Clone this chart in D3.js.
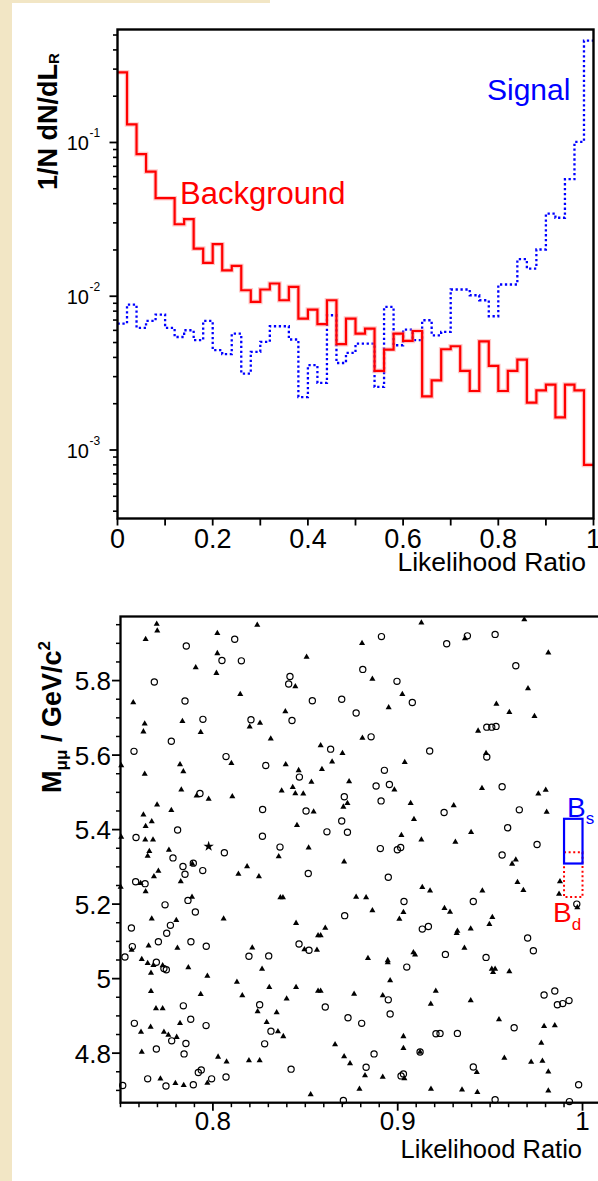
<!DOCTYPE html>
<html>
<head>
<meta charset="utf-8">
<script src="https://cdn.jsdelivr.net/npm/d3@7"></script>
<style>
  html, body { margin: 0; padding: 0; background: #f2e6c5; }
  svg { display: block; }
  text { font-family: "Liberation Sans", Arial, Helvetica, sans-serif; }
</style>
</head>
<body>
<svg id="chart" width="598" height="1181"></svg>
<script>
// ---------- Likelihood-ratio distributions (normalised, 50 bins of 0.02) ----------
const binLow = d3.range(0, 1, 0.02);
const background = [0.286, 0.131, 0.084, 0.0646, 0.0434, 0.0434, 0.0294, 0.0317, 0.0204, 0.0165,
  0.0218, 0.01475, 0.01574, 0.01094, 0.00919, 0.01106, 0.0121, 0.00942, 0.0115, 0.00716,
  0.00819, 0.00658, 0.00942, 0.00488, 0.00716, 0.00571, 0.00616, 0.00327, 0.0045, 0.00571,
  0.00512, 0.00594, 0.00223, 0.00284, 0.00452, 0.00473, 0.00327, 0.00242, 0.00509, 0.00352,
  0.00242, 0.00327, 0.00387, 0.00203, 0.00244, 0.00266, 0.00163, 0.00266, 0.00244, 0.0008];
const signal = [0.00664, 0.00883, 0.00622, 0.00691, 0.0076, 0.00622, 0.00543, 0.00601, 0.00518, 0.00691,
  0.00446, 0.0042, 0.00571, 0.00314, 0.00435, 0.00505, 0.00638, 0.00638, 0.00523, 0.00221,
  0.00356, 0.00273, 0.00752, 0.00368, 0.00428, 0.00492, 0.00492, 0.00257, 0.00852, 0.0048,
  0.00607, 0.00518, 0.00698, 0.00557, 0.00586, 0.01106, 0.01106, 0.01015, 0.00942, 0.00741,
  0.01192, 0.01192, 0.01741, 0.01514, 0.02014, 0.0345, 0.0324, 0.0577, 0.101, 0.459];
const lrTicks = [0, 0.1, 0.2, 0.3, 0.4, 0.5, 0.6, 0.7, 0.8, 0.9, 1];
const lrLabels = [0, 0.2, 0.4, 0.6, 0.8, 1];
const logMajor = [1e-3, 1e-2, 1e-1];
const logMajorExp = ["-3", "-2", "-1"];

// ---------- Candidate events in the (likelihood ratio, dimuon mass) plane ----------
// filled triangles: [LR, M(GeV/c^2)]
const triangleEvents = [
  [0.7696,5.952],[0.7699,5.934],[0.7636,5.911],[0.8240,5.949],[0.8024,5.927],[0.8024,5.873],[0.7907,5.835],[0.8019,5.820],
  [0.8148,5.763],[0.7569,5.741],[0.8392,5.717],[0.8446,5.784],[0.8507,5.863],[0.7631,5.684],[0.7624,5.663],[0.7835,5.691],
  [0.7934,5.661],[0.8199,5.676],[0.8255,5.686],[0.8313,5.644],[0.8583,5.626],[0.8645,5.582],[0.7504,5.572],[0.8100,5.578],
  [0.7822,5.575],[0.8394,5.575],[0.8590,5.562],[0.7840,5.556],[0.8464,5.559],[0.7631,5.549],[0.8533,5.528],[0.8432,5.514],
  [0.7829,5.507],[0.8372,5.504],[0.8446,5.497],[0.8489,5.496],[0.7912,5.491],[0.8105,5.489],[0.7977,5.482],[0.7698,5.467],
  [0.7775,5.452],[0.8545,5.448],[0.7624,5.440],[0.7669,5.422],[0.8455,5.412],[0.7636,5.409],[0.7504,5.380],[0.7634,5.373],
  [0.7676,5.373],[0.8518,5.351],[0.7762,5.345],[0.7656,5.342],[0.7647,5.329],[0.8356,5.328],
  [0.9128,5.955],[0.9685,5.964],[0.8807,5.900],[0.9364,5.913],[0.9815,5.875],[0.8863,5.804],[0.9705,5.779],[0.9025,5.763],
  [0.9534,5.737],[0.8951,5.728],[0.9604,5.715],[0.9740,5.704],[0.9435,5.665],[0.8809,5.646],[0.8701,5.605],[0.9478,5.605],
  [0.9038,5.581],[0.8737,5.529],[0.8982,5.507],[0.9456,5.511],[0.9801,5.506],[0.9761,5.496],[0.8728,5.471],[0.8706,5.461],
  [0.9070,5.471],[0.9303,5.465],[0.9806,5.447],[0.9088,5.428],[0.9397,5.393],[0.9020,5.385],[0.9128,5.373],[0.9312,5.367],
  [0.7889,5.308],[0.8185,5.301],[0.7705,5.289],[0.7681,5.274],[0.8138,5.281],[0.8249,5.274],[0.7609,5.256],[0.7826,5.261],
  [0.7636,5.234],[0.7501,5.246],[0.8365,5.218],[0.8379,5.218],[0.7887,5.219],[0.7669,5.161],[0.7802,5.157],[0.8058,5.161],
  [0.8450,5.149],[0.8608,5.136],[0.8569,5.116],[0.8583,5.116],[0.7652,5.088],[0.7560,5.077],[0.7808,5.082],[0.8213,5.083],
  [0.8495,5.078],[0.8563,5.077],[0.7615,5.052],[0.7647,5.041],[0.7678,5.036],[0.7728,5.035],[0.7867,5.030],[0.8266,5.026],
  [0.7665,5.015],[0.7970,5.007],[0.8130,4.991],[0.8305,4.977],[0.8450,4.977],[0.7665,4.966],[0.7934,4.958],[0.8159,4.955],
  [0.8569,4.967],[0.8583,4.967],[0.8399,4.946],[0.7692,4.920],[0.7728,4.920],[0.8242,4.912],[0.8345,4.909],[0.7822,4.880],
  [0.8291,4.883],[0.7663,4.870],[0.7611,4.857],[0.7735,4.857],[0.7759,4.849],[0.7804,4.843],[0.8352,4.858],[0.8381,4.845],
  [0.8661,4.823],[0.7615,4.803],[0.8028,4.790],[0.8074,4.777],[0.8195,4.780],[0.8253,4.780],[0.7716,4.731],[0.7797,4.719],
  [0.7842,4.714],[0.7970,4.720],[0.8529,4.689],
  [0.8710,5.314],[0.9639,5.319],[0.9619,5.308],[0.9878,5.261],[0.9873,5.227],[0.9972,5.191],[0.9648,5.259],[0.9680,5.237],
  [0.9133,5.245],[0.9175,5.236],[0.9458,5.236],[0.8775,5.219],[0.8829,5.218],[0.8863,5.183],[0.9253,5.189],[0.9283,5.179],
  [0.9031,5.178],[0.9009,5.160],[0.9512,5.165],[0.9496,5.146],[0.9395,5.134],[0.9323,5.128],[0.9319,5.122],[0.9361,5.082],
  [0.9085,5.070],[0.9094,5.064],[0.8839,5.055],[0.8946,5.049],[0.8946,5.043],[0.9509,5.026],[0.9527,5.026],[0.9516,5.017],
  [0.9604,5.019],[0.8959,4.995],[0.9206,4.967],[0.8764,4.959],[0.8919,4.955],[0.9395,4.941],[0.9179,4.932],[0.9548,4.890],
  [0.9792,4.872],[0.9850,4.874],[0.9031,4.845],[0.9777,4.827],[0.9031,4.813],[0.9121,4.803],[0.8710,4.791],[0.8742,4.772],
  [0.9577,4.787],[0.9722,4.776],[0.9783,4.779],[0.9428,4.749],[0.9815,4.750],[0.8823,4.740],[0.8919,4.736],[0.9036,4.732],
  [0.8793,4.704],[0.9180,4.704],[0.9348,4.702],[0.9431,4.695],[0.9815,4.699]
];
// open circles: [LR, M(GeV/c^2)]
const circleEvents = [
  [0.7856,5.893],[0.8118,5.911],[0.8049,5.854],[0.8154,5.853],[0.7683,5.796],[0.8417,5.811],[0.8410,5.791],[0.7849,5.745],
  [0.8538,5.746],[0.7946,5.696],[0.8206,5.695],[0.8428,5.693],[0.7775,5.637],[0.7573,5.610],[0.8071,5.596],[0.8286,5.572],
  [0.8637,5.616],[0.8468,5.541],[0.7930,5.497],[0.8269,5.454],[0.8504,5.450],[0.8617,5.394],[0.7809,5.399],[0.7584,5.379],
  [0.8268,5.382],[0.8363,5.353],[0.8062,5.338],[0.7784,5.324],
  [0.8912,5.918],[0.9265,5.899],[0.9377,5.920],[0.9527,5.924],[0.9639,5.840],[0.8811,5.830],[0.8996,5.798],[0.8697,5.750],
  [0.9079,5.741],[0.8775,5.713],[0.9482,5.675],[0.9509,5.675],[0.9532,5.677],[0.8856,5.649],[0.9173,5.611],[0.9482,5.595],
  [0.8928,5.559],[0.8883,5.517],[0.8955,5.521],[0.9565,5.515],[0.8711,5.488],[0.8910,5.477],[0.9251,5.446],[0.9658,5.453],
  [0.8697,5.423],[0.9595,5.405],[0.8728,5.393],[0.9754,5.360],[0.8906,5.349],[0.8998,5.346],[0.9016,5.352],[0.9565,5.332],
  [0.7838,5.301],[0.7894,5.310],[0.7945,5.290],[0.7849,5.280],[0.8516,5.282],[0.7582,5.260],[0.7633,5.255],[0.7865,5.210],
  [0.7741,5.198],[0.7905,5.179],[0.7770,5.143],[0.7559,5.136],[0.7750,5.122],[0.7705,5.099],[0.7881,5.099],[0.7564,5.086],
  [0.7964,5.087],[0.8466,5.093],[0.8520,5.076],[0.7524,5.058],[0.8195,5.060],[0.8302,5.061],[0.7694,5.044],[0.7735,5.027],
  [0.7748,5.024],[0.7840,4.927],[0.8253,4.930],[0.8608,4.924],[0.7880,4.891],[0.7575,4.880],[0.7963,4.874],[0.8314,4.859],
  [0.7777,4.833],[0.7854,4.826],[0.8280,4.825],[0.7694,4.811],[0.7844,4.798],[0.8423,4.757],[0.7937,4.755],[0.7921,4.748],
  [0.7647,4.731],[0.7993,4.731],[0.8071,4.736],[0.7894,4.715],[0.7746,4.712],[0.7512,4.713],
  [0.8949,5.272],[0.9969,5.200],[0.9034,5.207],[0.9409,5.207],[0.8713,5.169],[0.9133,5.133],[0.9166,5.140],[0.9703,5.109],
  [0.9734,5.075],[0.9258,5.065],[0.9478,5.057],[0.9049,5.031],[0.9850,4.967],[0.9792,4.956],[0.8949,4.943],[0.9864,4.930],
  [0.9893,4.933],[0.9927,4.941],[0.8959,4.905],[0.8731,4.895],[0.8805,4.880],[0.9630,4.868],[0.9207,4.852],[0.9229,4.853],
  [0.9323,4.853],[0.8872,4.798],[0.9121,4.803],[0.8829,4.762],[0.9409,4.763],[0.9018,4.739],[0.9031,4.744],[0.9979,4.715],
  [0.8706,4.673],[0.9527,4.675],[0.9929,4.670]
];
const starEvents = [[0.7977, 5.355]];
const massMajor = [4.8, 5.0, 5.2, 5.4, 5.6, 5.8];
const massLabels = ["4.8", "5", "5.2", "5.4", "5.6", "5.8"];
const lrZoomMajor = [0.8, 0.9, 1.0];
const lrZoomLabels = ["0.8", "0.9", "1"];
// signal mass windows (LR > 0.99)
const bsWindow = { lr: [0.99, 1.0], mass: [5.309, 5.429] };
const bdWindow = { lr: [0.99, 1.0], mass: [5.219, 5.339] };

const RED = "#ff0000", BLUE = "#0000ff";
const svg = d3.select("#chart");

// ---------- page ----------
svg.append("rect").attr("x", 0).attr("y", 0).attr("width", 598).attr("height", 1181).attr("fill", "#f2e6c5");
svg.append("rect").attr("x", 12).attr("y", 3).attr("width", 586).attr("height", 1178).attr("fill", "#ffffff");
svg.append("rect").attr("x", 270).attr("y", 0).attr("width", 328).attr("height", 3).attr("fill", "#ffffff");

// ================= upper panel: 1/N dN/dL_R =================
const gTop = svg.append("g");
const xL = d3.scaleLinear().domain([0, 1]).range([117.5, 593.5]);
const yL = d3.scaleLog().domain([3.585e-4, 0.543]).range([518.5, 29.5]);

const stepLine = d3.line().x(d => xL(d[0])).y(d => yL(d[1])).curve(d3.curveStepAfter);
const histPoints = vals => binLow.map((b, i) => [b, vals[i]]).concat([[1, vals[vals.length - 1]]]);

// signal (dotted blue)
gTop.append("path").attr("d", stepLine(histPoints(signal)))
  .attr("fill", "none").attr("stroke", BLUE).attr("stroke-width", 2.3)
  .attr("stroke-dasharray", "2.3 2.6");
// background (solid red, soft edge)
gTop.append("path").attr("d", stepLine(histPoints(background)))
  .attr("fill", "none").attr("stroke", "#ff8a8a").attr("stroke-opacity", 0.45).attr("stroke-width", 4.6);
gTop.append("path").attr("d", stepLine(histPoints(background)))
  .attr("fill", "none").attr("stroke", RED).attr("stroke-width", 2.2);

// frame
gTop.append("rect").attr("x", xL(0)).attr("y", yL.range()[1])
  .attr("width", xL(1) - xL(0)).attr("height", yL.range()[0] - yL.range()[1])
  .attr("fill", "none").attr("stroke", "#000").attr("stroke-width", 2.4);

// y ticks (log)
const minorLog = [];
[-4, -3, -2, -1].forEach(e => { for (let k = 2; k <= 9; k++) { const v = k * Math.pow(10, e); if (v > yL.domain()[0] && v < yL.domain()[1]) minorLog.push(v); } });
gTop.selectAll(".ymin").data(minorLog).join("line")
  .attr("x1", xL(0) - 4.5).attr("x2", xL(0)).attr("y1", d => yL(d)).attr("y2", d => yL(d))
  .attr("stroke", "#000").attr("stroke-width", 1.6);
gTop.selectAll(".ymaj").data(logMajor).join("line")
  .attr("x1", xL(0) - 8).attr("x2", xL(0)).attr("y1", d => yL(d)).attr("y2", d => yL(d))
  .attr("stroke", "#000").attr("stroke-width", 1.8);
logMajor.forEach((v, i) => {
  gTop.append("text").attr("x", 89).attr("y", yL(v) + 8).attr("text-anchor", "end")
    .attr("font-size", 20).attr("fill", "#000").text("10");
  gTop.append("text").attr("x", 89.5).attr("y", yL(v) - 5).attr("font-size", 12).attr("fill", "#000").text(logMajorExp[i]);
});

// x ticks
gTop.selectAll(".xt").data(lrTicks).join("line")
  .attr("x1", d => xL(d)).attr("x2", d => xL(d)).attr("y1", yL.range()[0]).attr("y2", yL.range()[0] + 7)
  .attr("stroke", "#000").attr("stroke-width", 1.8);
gTop.selectAll(".xl").data(lrLabels).join("text")
  .attr("x", d => xL(d)).attr("y", 547.5).attr("text-anchor", "middle")
  .attr("font-size", 27).attr("fill", "#000").text(d => String(d));
gTop.append("text").attr("x", 586).attr("y", 571).attr("text-anchor", "end")
  .attr("font-size", 26.5).attr("fill", "#000").text("Likelihood Ratio");

// y title
const yt = gTop.append("text").attr("transform", "translate(56.5,121.5) rotate(-90)")
  .attr("text-anchor", "middle").attr("font-size", 27).attr("font-weight", "bold").attr("fill", "#000");
yt.append("tspan").text("1/N dN/dL");
yt.append("tspan").attr("font-size", 15).attr("dy", 2).text("R");

// series labels
gTop.append("text").attr("x", 487).attr("y", 100).attr("font-size", 30).attr("fill", BLUE).text("Signal");
gTop.append("text").attr("x", 180).attr("y", 204).attr("font-size", 31).attr("fill", RED).text("Background");

// ================= lower panel: M_mumu vs LR =================
const gBot = svg.append("g");
const xS = d3.scaleLinear().domain([0.75, 1.01]).range([120.5, 601]);
const yS = d3.scaleLinear().domain([4.667, 5.972]).range([1102.7, 616.5]);

// frame
gBot.append("rect").attr("x", xS(0.75)).attr("y", yS(5.972))
  .attr("width", xS(1.01) - xS(0.75)).attr("height", yS(4.667) - yS(5.972))
  .attr("fill", "none").attr("stroke", "#000").attr("stroke-width", 2.3);

// y ticks
const massMinor = d3.range(4.7, 5.96, 0.05).filter(v => !massMajor.some(m => Math.abs(m - v) < 1e-6));
gBot.selectAll(".mmin").data(massMinor).join("line")
  .attr("x1", xS(0.75) - 4.5).attr("x2", xS(0.75)).attr("y1", d => yS(d)).attr("y2", d => yS(d))
  .attr("stroke", "#000").attr("stroke-width", 1.5);
gBot.selectAll(".mmaj").data(massMajor).join("line")
  .attr("x1", xS(0.75) - 8.5).attr("x2", xS(0.75)).attr("y1", d => yS(d)).attr("y2", d => yS(d))
  .attr("stroke", "#000").attr("stroke-width", 1.8);
gBot.selectAll(".ml").data(massMajor).join("text")
  .attr("x", 111).attr("y", d => yS(d) + 9.5).attr("text-anchor", "end")
  .attr("font-size", 26).attr("fill", "#000").text((d, i) => massLabels[i]);

// x ticks
const lrMinor = d3.range(0.75, 1.0095, 0.01).filter(v => !lrZoomMajor.some(m => Math.abs(m - v) < 1e-6));
gBot.selectAll(".lmin").data(lrMinor).join("line")
  .attr("x1", d => xS(d)).attr("x2", d => xS(d)).attr("y1", yS(4.667)).attr("y2", yS(4.667) + 4.5)
  .attr("stroke", "#000").attr("stroke-width", 1.5);
gBot.selectAll(".lmaj").data(lrZoomMajor).join("line")
  .attr("x1", d => xS(d)).attr("x2", d => xS(d)).attr("y1", yS(4.667)).attr("y2", yS(4.667) + 8)
  .attr("stroke", "#000").attr("stroke-width", 1.8);
gBot.selectAll(".ll").data(lrZoomMajor).join("text")
  .attr("x", d => xS(d)).attr("y", 1130).attr("text-anchor", "middle")
  .attr("font-size", 26).attr("fill", "#000").text((d, i) => lrZoomLabels[i]);
gBot.append("text").attr("x", 582).attr("y", 1158).attr("text-anchor", "end")
  .attr("font-size", 25.5).attr("fill", "#000").text("Likelihood Ratio");

// y title
const mt = gBot.append("text").attr("transform", "translate(61,717) rotate(-90)")
  .attr("text-anchor", "middle").attr("font-size", 27).attr("font-weight", "bold").attr("fill", "#000");
mt.append("tspan").text("M");
mt.append("tspan").attr("font-size", 17).attr("dy", 6).text("\u03bc\u03bc");
mt.append("tspan").attr("dy", -6).text(" / GeV/c");
mt.append("tspan").attr("font-size", 17).attr("dy", -11).text("2");

// events
const tri = d3.symbol().type(d3.symbolTriangle).size(16);
gBot.selectAll(".tri").data(triangleEvents).join("path")
  .attr("d", tri).attr("transform", d => `translate(${xS(d[0])},${yS(d[1])})`).attr("fill", "#000");
gBot.selectAll(".circ").data(circleEvents).join("circle")
  .attr("cx", d => xS(d[0])).attr("cy", d => yS(d[1])).attr("r", 3.1)
  .attr("fill", "none").attr("stroke", "#000").attr("stroke-width", 1.2);
const star = d3.symbol().type(d3.symbolStar).size(34);
gBot.selectAll(".star").data(starEvents).join("path")
  .attr("d", star).attr("transform", d => `translate(${xS(d[0])},${yS(d[1])})`).attr("fill", "#000");

// mass windows
gBot.append("rect").attr("x", xS(bdWindow.lr[0])).attr("y", yS(bdWindow.mass[1]))
  .attr("width", xS(bdWindow.lr[1]) - xS(bdWindow.lr[0])).attr("height", yS(bdWindow.mass[0]) - yS(bdWindow.mass[1]))
  .attr("fill", "none").attr("stroke", RED).attr("stroke-width", 2).attr("stroke-dasharray", "2 2.6");
gBot.append("rect").attr("x", xS(bsWindow.lr[0])).attr("y", yS(bsWindow.mass[1]))
  .attr("width", xS(bsWindow.lr[1]) - xS(bsWindow.lr[0])).attr("height", yS(bsWindow.mass[0]) - yS(bsWindow.mass[1]))
  .attr("fill", "none").attr("stroke", BLUE).attr("stroke-width", 2.2);

const bs = gBot.append("text").attr("x", 567).attr("y", 816.5).attr("font-size", 28).attr("fill", BLUE);
bs.append("tspan").text("B");
bs.append("tspan").attr("font-size", 17).attr("dy", 7).text("s");
const bd = gBot.append("text").attr("x", 553).attr("y", 921.5).attr("font-size", 28).attr("fill", RED);
bd.append("tspan").text("B");
bd.append("tspan").attr("font-size", 17).attr("dy", 8).text("d");
</script>
</body>
</html>
